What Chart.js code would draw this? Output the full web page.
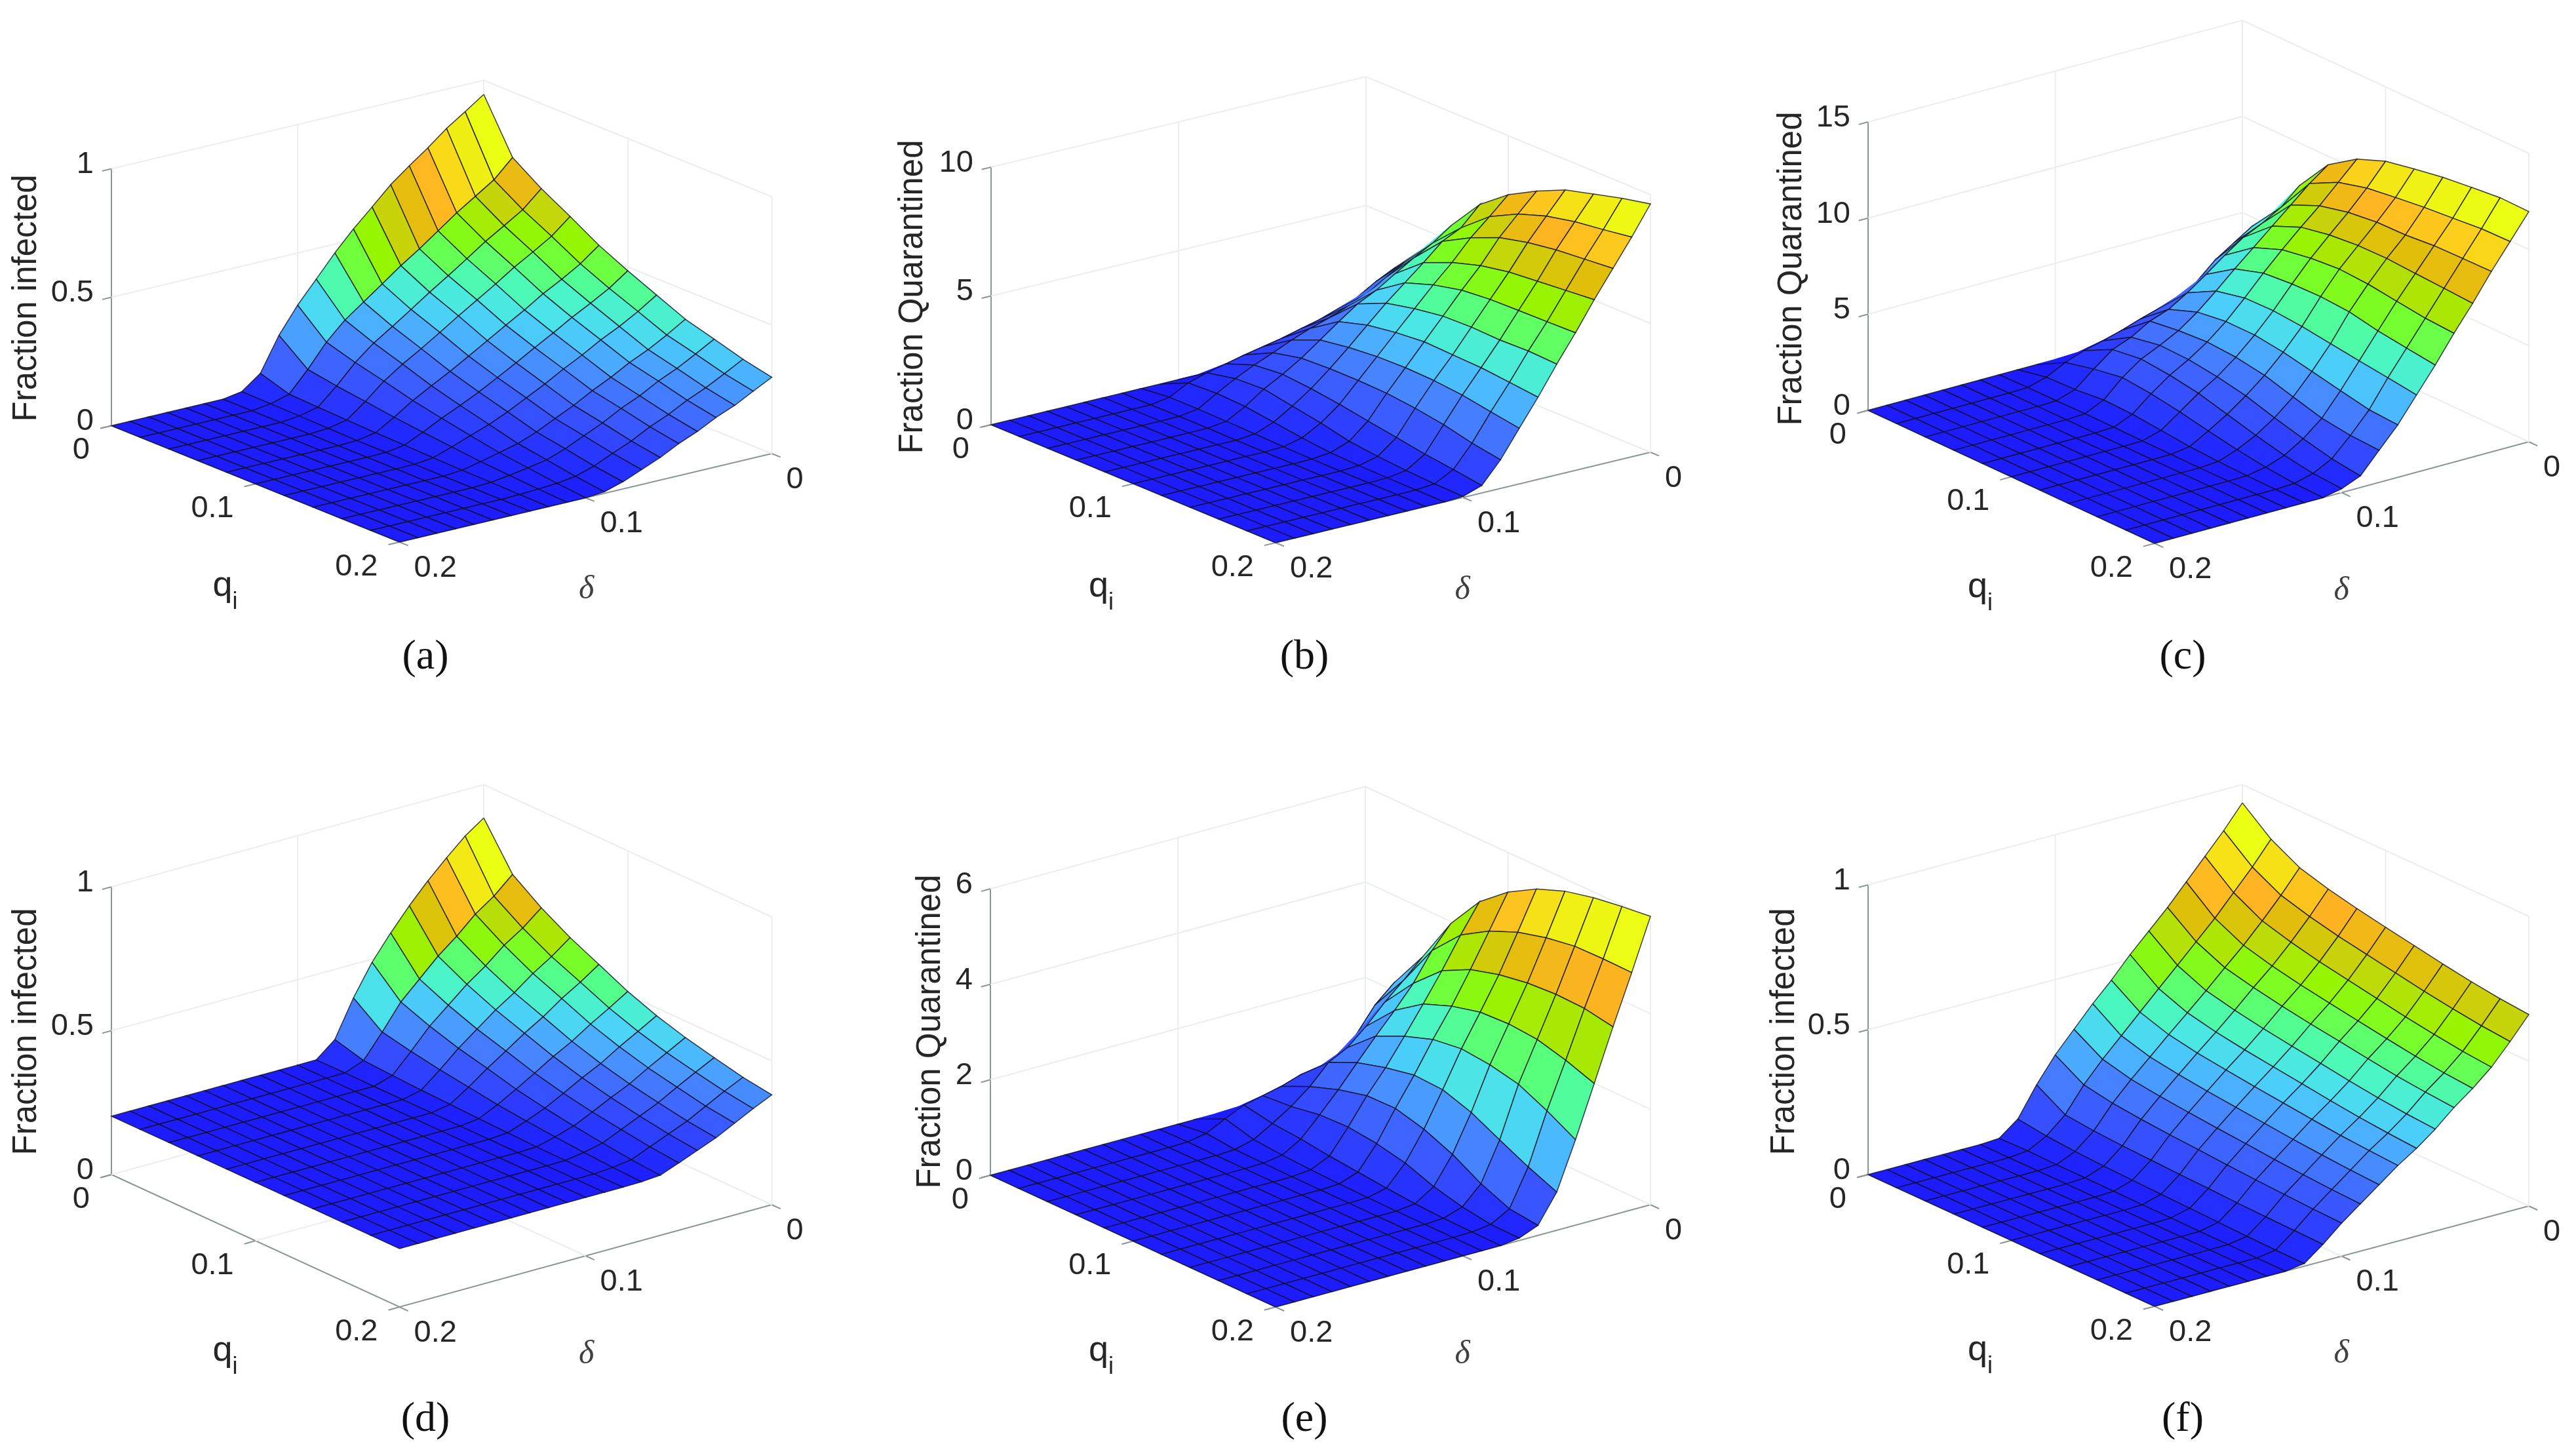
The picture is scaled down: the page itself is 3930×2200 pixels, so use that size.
<!DOCTYPE html>
<html>
<head>
<meta charset="utf-8">
<title>Surfaces</title>
<script src="https://cdn.jsdelivr.net/npm/chart.js@4/dist/chart.umd.min.js"></script>
<style>
  html, body { margin: 0; padding: 0; background: #ffffff; }
  #page { position: relative; width: 3930px; height: 2200px; overflow: hidden; }
  canvas { position: absolute; }
</style>
</head>
<body>
<div id="page"></div>
<script>
const qValues = [0, 0.02, 0.04, 0.06, 0.08, 0.1, 0.12, 0.14, 0.16, 0.18, 0.2];
const deltaValues = [0, 0.01, 0.02, 0.03, 0.04, 0.05, 0.06, 0.07, 0.08, 0.09, 0.1, 0.11, 0.12, 0.13, 0.14, 0.15, 0.16, 0.17, 0.18, 0.19, 0.2];
const qTicks = [0, 0.1, 0.2];
const deltaTicks = [0, 0.1, 0.2];

const zTicksA = [0, 0.5, 1];
const zTicksB = [0, 5, 10];
const zTicksC = [0, 5, 10, 15];
const zTicksD = [0, 0.5, 1];
const zTicksE = [0, 2, 4, 6];
const zTicksF = [0, 0.5, 1];

// rows are q, columns are delta
const surfaceA = [
  [.945,.895,.847,.789,.736,.68,.61,.542,.466,.381,.297,.197,.066,.012,0,0,0,0,0,0,0],
  [.745,.675,.628,.581,.528,.475,.427,.373,.32,.267,.198,.109,.03,.01,0,0,0,0,0,0,0],
  [.669,.604,.559,.515,.465,.416,.369,.319,.27,.223,.164,.09,.025,.008,0,0,0,0,0,0,0],
  [.606,.546,.502,.46,.412,.367,.322,.275,.229,.186,.137,.075,.02,.005,0,0,0,0,0,0,0],
  [.539,.484,.441,.402,.356,.314,.271,.228,.186,.147,.107,.059,.016,.003,0,0,0,0,0,0,0],
  [.485,.434,.393,.355,.312,.272,.23,.19,.151,.116,.083,.046,.013,.002,0,0,0,0,0,0,0],
  [.436,.389,.348,.313,.271,.234,.193,.156,.119,.087,.061,.034,.009,.001,0,0,0,0,0,0,0],
  [.387,.343,.303,.27,.23,.195,.155,.121,.086,.058,.04,.022,.006,0,0,0,0,0,0,0,0],
  [.355,.314,.275,.243,.203,.171,.132,.099,.066,.04,.026,.014,.004,0,0,0,0,0,0,0,0],
  [.322,.283,.245,.214,.176,.145,.107,.076,.044,.021,.011,.006,.002,0,0,0,0,0,0,0,0],
  [.297,.26,.222,.192,.155,.125,.088,.058,.028,.006,0,0,0,0,0,0,0,0,0,0,0]
];

const surfaceB = [
  [0,0,0,0,0,0,0,0,0,0,0,0,0,0,0,0,0,0,0,0,0],
  [3.03,2.67,2.24,1.98,1.73,1.55,1.36,1.21,1.06,.89,.72,.5,.12,0,0,0,0,0,0,0,0],
  [4.23,3.87,3.46,3.01,2.71,2.43,2.2,1.92,1.6,1.3,.95,.55,.12,.01,0,0,0,0,0,0,0],
  [5.6,5.09,4.69,4.25,3.79,3.43,2.92,2.38,1.85,1.4,1,.5,.1,.01,0,0,0,0,0,0,0],
  [6.87,6.14,5.79,5.14,4.53,3.92,3.24,2.55,1.9,1.3,.8,.35,.07,0,0,0,0,0,0,0,0],
  [7.71,7.03,6.39,5.6,4.91,4.16,3.41,2.65,1.9,1.15,.6,.2,.03,0,0,0,0,0,0,0,0],
  [8.31,7.59,6.85,5.94,5.16,4.33,3.51,2.68,1.86,.96,.35,.08,.01,0,0,0,0,0,0,0,0],
  [8.81,7.97,7.12,6.15,5.26,4.36,3.46,2.64,1.74,.78,.22,.04,0,0,0,0,0,0,0,0,0],
  [9.11,8.21,7.29,6.25,5.29,4.32,3.42,2.53,1.56,.59,.13,.02,0,0,0,0,0,0,0,0,0],
  [9.4,8.36,7.39,6.35,5.31,4.35,3.31,2.34,1.3,.45,.07,.01,0,0,0,0,0,0,0,0,0],
  [9.64,8.53,7.49,6.45,5.34,4.3,3.19,2.16,1.11,.29,.04,0,0,0,0,0,0,0,0,0,0]
];

const surfaceC = [
  [0,0,0,0,0,0,0,0,0,0,0,0,0,0,0,0,0,0,0,0,0],
  [5.6,5.25,4.63,4,3.12,2.65,2.29,2,1.67,1.4,1.15,.8,.3,.03,0,0,0,0,0,0,0],
  [7.8,6.92,6.36,5.89,5.22,4.49,3.8,3.2,2.85,2.28,1.9,1.15,.35,.03,0,0,0,0,0,0,0],
  [9.57,8.85,8,7.16,6.31,5.47,4.58,3.75,3.05,2.55,2.1,1.4,.5,.05,0,0,0,0,0,0,0],
  [10.55,9.6,8.65,7.8,6.89,5.94,4.91,3.95,3.15,2.5,1.95,1.25,.45,.04,0,0,0,0,0,0,0],
  [11.13,10,9,8.09,7.14,6.07,4.94,3.94,3.05,2.3,1.7,1,.3,.02,0,0,0,0,0,0,0],
  [11.42,10.2,9.18,8.23,7.27,6.1,4.81,3.74,2.8,2,1.3,.7,.15,.01,0,0,0,0,0,0,0],
  [11.68,10.38,9.21,8.25,7.18,6,4.61,3.43,2.37,1.55,.9,.42,.07,0,0,0,0,0,0,0,0],
  [11.85,10.51,9.34,8.16,6.98,5.7,4.41,3.12,1.95,1.15,.55,.2,.02,0,0,0,0,0,0,0,0],
  [12,10.65,9.37,8.08,6.79,5.5,4.22,2.82,1.75,.8,.3,.05,0,0,0,0,0,0,0,0,0],
  [11.97,10.68,9.39,7.99,6.7,5.31,4.02,2.73,1.67,.6,.2,0,0,0,0,0,0,0,0,0,0]
];

const surfaceD = [
  [.884,.839,.781,.719,.65,.573,.489,.383,.256,.203,.203,.203,.203,.203,.203,.203,.203,.203,.203,.203,.203],
  [.734,.676,.631,.572,.521,.459,.397,.31,.229,.204,.203,.203,.203,.203,.203,.203,.203,.203,.203,.203,.203],
  [.664,.611,.569,.515,.469,.414,.359,.289,.223,.203,.203,.203,.203,.203,.203,.203,.203,.203,.203,.203,.203],
  [.606,.558,.517,.468,.426,.377,.328,.271,.218,.203,.203,.203,.203,.203,.203,.203,.203,.203,.203,.203,.203],
  [.559,.515,.476,.43,.391,.347,.304,.257,.215,.203,.203,.203,.203,.203,.203,.203,.203,.203,.203,.203,.203],
  [.511,.471,.433,.391,.356,.316,.278,.242,.211,.203,.203,.203,.203,.203,.203,.203,.203,.203,.203,.203,.203],
  [.473,.436,.4,.36,.328,.292,.258,.231,.208,.203,.203,.203,.203,.203,.203,.203,.203,.203,.203,.203,.203],
  [.443,.408,.373,.335,.305,.273,.242,.222,.205,.203,.203,.203,.203,.203,.203,.203,.203,.203,.203,.203,.203],
  [.419,.386,.352,.316,.287,.258,.229,.214,.204,.203,.203,.203,.203,.203,.203,.203,.203,.203,.203,.203,.203],
  [.397,.366,.332,.298,.271,.244,.217,.208,.203,.203,.203,.203,.203,.203,.203,.203,.203,.203,.203,.203,.203],
  [.382,.352,.319,.286,.26,.234,.209,.204,.203,.203,.203,.203,.203,.203,.203,.203,.203,.203,.203,.203,.203]
];

const surfaceE = [
  [0,0,0,0,0,0,0,0,0,0,0,0,0,0,0,0,0,0,0,0,0],
  [2.16,1.81,1.3,.99,.82,.77,.64,.55,.46,.28,.08,.01,0,0,0,0,0,0,0,0,0],
  [2.98,2.6,2.25,1.85,1.51,1.31,.91,.6,.35,.12,.02,0,0,0,0,0,0,0,0,0,0],
  [3.96,3.5,2.92,2.46,2.03,1.58,1.12,.7,.3,.07,.01,0,0,0,0,0,0,0,0,0,0],
  [4.69,4.1,3.46,2.87,2.3,1.75,1.27,.72,.22,.04,0,0,0,0,0,0,0,0,0,0,0],
  [5.17,4.46,3.76,3.1,2.51,1.87,1.28,.65,.16,.02,0,0,0,0,0,0,0,0,0,0,0],
  [5.51,4.71,3.93,3.25,2.59,1.84,1.12,.52,.1,.01,0,0,0,0,0,0,0,0,0,0,0],
  [5.74,4.87,4.03,3.28,2.53,1.64,.87,.3,.05,0,0,0,0,0,0,0,0,0,0,0,0],
  [5.88,4.97,4.07,3.23,2.4,1.34,.53,.15,.02,0,0,0,0,0,0,0,0,0,0,0,0],
  [5.97,4.98,4.05,3.07,2.12,1.05,.28,.06,.01,0,0,0,0,0,0,0,0,0,0,0,0],
  [6.04,4.97,3.94,2.86,1.79,.8,.21,.05,0,0,0,0,0,0,0,0,0,0,0,0,0]
];

const surfaceF = [
  [.937,.858,.787,.716,.645,.581,.517,.446,.382,.311,.24,.154,.053,.004,0,0,0,0,0,0,0],
  [.857,.778,.707,.636,.572,.508,.445,.381,.317,.253,.182,.096,.04,.006,0,0,0,0,0,0,0],
  [.804,.726,.655,.588,.528,.466,.407,.349,.289,.229,.164,.086,.032,.004,0,0,0,0,0,0,0],
  [.776,.698,.627,.562,.505,.444,.386,.331,.274,.216,.154,.08,.027,.004,0,0,0,0,0,0,0],
  [.754,.676,.605,.542,.486,.426,.37,.318,.262,.206,.146,.076,.024,.003,0,0,0,0,0,0,0],
  [.735,.658,.587,.525,.47,.411,.357,.306,.252,.197,.14,.072,.021,.002,0,0,0,0,0,0,0],
  [.717,.64,.569,.509,.456,.397,.344,.295,.242,.189,.133,.069,.018,.002,0,0,0,0,0,0,0],
  [.699,.622,.551,.493,.441,.382,.331,.284,.232,.18,.127,.065,.015,.001,0,0,0,0,0,0,0],
  [.683,.607,.536,.478,.427,.369,.319,.274,.224,.173,.122,.062,.012,.001,0,0,0,0,0,0,0],
  [.67,.594,.523,.466,.417,.359,.31,.267,.217,.167,.117,.06,.01,0,0,0,0,0,0,0,0],
  [.661,.585,.514,.458,.409,.352,.303,.261,.212,.163,.114,.058,.009,0,0,0,0,0,0,0,0]
];

// layout of each panel on the page
const panels = [
  { id: "a", surface: surfaceA, zTicks: zTicksA, title: "Fraction infected", box: [0, 0, 1340, 1100],
    left: [170, 649.5], front: [609.5, 827], right: [1177.5, 692], zPx: 392, yLabel: [41, 455], letter: [649, 1003] },
  { id: "b", surface: surfaceB, zTicks: zTicksB, title: "Fraction Quarantined", box: [1340, 0, 1320, 1100],
    left: [1512, 648], front: [1946, 828], right: [2518, 690], zPx: 393, yLabel: [1393, 453], letter: [1990, 1003] },
  { id: "c", surface: surfaceC, zTicks: zTicksC, title: "Fraction Quarantined", box: [2660, 0, 1270, 1100],
    left: [2850, 626], front: [3287, 829], right: [3858, 674], zPx: 440, yLabel: [2734, 410], letter: [3330, 1003] },
  { id: "d", surface: surfaceD, zTicks: zTicksD, title: "Fraction infected", box: [0, 1100, 1340, 1100],
    left: [170, 1792], front: [609.5, 1994], right: [1177.5, 1838], zPx: 439, yLabel: [41, 1574], letter: [649, 2166] },
  { id: "e", surface: surfaceE, zTicks: zTicksE, title: "Fraction Quarantined", box: [1340, 1100, 1320, 1100],
    left: [1511, 1793], front: [1946, 1994], right: [2518, 1838], zPx: 437, yLabel: [1420, 1574], letter: [1990, 2166] },
  { id: "f", surface: surfaceF, zTicks: zTicksF, title: "Fraction infected", box: [2660, 1100, 1270, 1100],
    left: [2850, 1792], front: [3287, 1993], right: [3858, 1840], zPx: 442, yLabel: [2723, 1574], letter: [3330, 2166] }
];

const colorStops = [
  [0, 28, 28, 255], [.07, 35, 45, 255], [.14, 50, 70, 255], [.21, 62, 100, 255],
  [.27, 70, 130, 255], [.33, 75, 170, 255], [.38, 75, 205, 250], [.43, 75, 230, 230], [.48, 75, 248, 190],
  [.53, 85, 255, 130], [.58, 115, 255, 50], [.645, 150, 245, 0], [.71, 195, 215, 10],
  [.77, 225, 190, 10], [.83, 255, 180, 35], [.89, 250, 215, 25], [.95, 240, 240, 20], [1, 235, 255, 20]
];

const WALL = "#ebeeee";
const AXIS = "#8b9696";
const MESH = "rgba(15,15,30,0.8)";
const SANS = '"Liberation Sans", Arial, sans-serif';
const SERIF = '"Liberation Serif", "Times New Roman", serif';

function corFace(t) {
  for (let k = 1; k < colorStops.length; k++) {
    if (t <= colorStops[k][0]) {
      const a = colorStops[k - 1];
      const b = colorStops[k];
      const f = (t - a[0]) / (b[0] - a[0]);
      const c = [1, 2, 3].map((n) => Math.round(a[n] + (b[n] - a[n]) * f));
      return `rgb(${c[0]},${c[1]},${c[2]})`;
    }
  }
  return "rgb(235,255,20)";
}

// orthographic view: q and delta run along the floor edges, z goes straight up
function project(p, q, d, z) {
  const backX = p.left[0] + p.right[0] - p.front[0];
  const backY = p.left[1] + p.right[1] - p.front[1];
  const zTop = p.zTicks[p.zTicks.length - 1];
  return {
    x: backX + (p.right[0] - backX) * (q / 0.2) + (p.left[0] - backX) * (d / 0.2),
    y: backY + (p.right[1] - backY) * (q / 0.2) + (p.left[1] - backY) * (d / 0.2) - p.zPx * (z / zTop)
  };
}

function linha(points, color, width) {
  return {
    data: points,
    showLine: true,
    fill: false,
    borderColor: color,
    borderWidth: width,
    pointRadius: 0,
    pointHoverRadius: 0,
    tension: 0
  };
}

function montarParedes(p) {
  const sets = [];
  const zTop = p.zTicks[p.zTicks.length - 1];

  p.zTicks.forEach((z) => {
    if (z === 0) return;
    sets.push(linha([project(p, 0, 0.2, z), project(p, 0, 0, z), project(p, 0.2, 0, z)], WALL, 2));
  });
  sets.push(linha([project(p, 0, 0.1, 0), project(p, 0, 0.1, zTop)], WALL, 2));
  sets.push(linha([project(p, 0.1, 0, 0), project(p, 0.1, 0, zTop)], WALL, 2));
  sets.push(linha([project(p, 0, 0, 0), project(p, 0, 0, zTop)], WALL, 2));
  sets.push(linha([project(p, 0.2, 0, 0), project(p, 0.2, 0, zTop)], WALL, 2));
  sets.push(linha([project(p, 0, 0.2, 0), project(p, 0, 0, 0), project(p, 0.2, 0, 0)], WALL, 2));
  sets.push(linha([project(p, 0.1, 0, 0), project(p, 0.1, 0.2, 0)], WALL, 2));
  sets.push(linha([project(p, 0, 0.1, 0), project(p, 0.2, 0.1, 0)], WALL, 2));

  // axis lines and tick marks
  sets.push(linha([project(p, 0, 0.2, 0), project(p, 0, 0.2, zTop)], AXIS, 2));
  sets.push(linha([project(p, 0, 0.2, 0), project(p, 0.2, 0.2, 0), project(p, 0.2, 0, 0)], AXIS, 2));
  p.zTicks.forEach((z) => {
    sets.push(linha([project(p, 0, 0.2, z), project(p, 0, 0.205, z)], AXIS, 2));
  });
  qTicks.forEach((q) => {
    sets.push(linha([project(p, q, 0.2, 0), project(p, q, 0.206, 0)], AXIS, 2));
  });
  deltaTicks.forEach((d) => {
    sets.push(linha([project(p, 0.2, d, 0), project(p, 0.206, d, 0)], AXIS, 2));
  });
  return sets;
}

function montarFaces(p) {
  const sets = [];
  const all = p.surface.flat();
  const zMin = Math.min(...all);
  const zMax = Math.max(...all);

  for (let i = 0; i < qValues.length - 1; i++) {
    for (let j = 0; j < deltaValues.length - 1; j++) {
      const q0 = qValues[i], q1 = qValues[i + 1];
      const d0 = deltaValues[j], d1 = deltaValues[j + 1];
      const s = p.surface;
      const pts = [
        project(p, q0, d0, s[i][j]),
        project(p, q1, d0, s[i + 1][j]),
        project(p, q1, d1, s[i + 1][j + 1]),
        project(p, q0, d1, s[i][j + 1]),
        project(p, q0, d0, s[i][j])
      ];
      const cor = corFace((s[i][j] - zMin) / (zMax - zMin));
      // faces seen from underneath only peek out along the fold, keep them without mesh
      const ax = pts[1].x - pts[0].x, ay = pts[1].y - pts[0].y;
      const bx = pts[3].x - pts[0].x, by = pts[3].y - pts[0].y;
      const deCosta = ax * by - ay * bx < 0;
      const face = linha(pts, deCosta ? cor : MESH, 1.5);
      face.fill = "shape";
      face.backgroundColor = cor;
      sets.push(face);
    }
  }
  return sets;
}

function textosPlugin(p) {
  return {
    id: "textos",
    afterDraw(chart) {
      const ctx = chart.ctx;
      const sx = chart.scales.x;
      const sy = chart.scales.y;
      const put = (txt, x, y, font, align, color) => {
        ctx.font = font;
        ctx.textAlign = align;
        ctx.textBaseline = "middle";
        ctx.fillStyle = color;
        ctx.fillText(txt, sx.getPixelForValue(x), sy.getPixelForValue(y));
      };
      const tickFont = "47px " + SANS;
      const ink = "#262626";

      ctx.save();
      p.zTicks.forEach((z) => {
        const a = project(p, 0, 0.2, z);
        put(String(z), a.x - 27, a.y - 6, tickFont, "right", ink);
      });
      qTicks.forEach((q) => {
        const a = project(p, q, 0.2, 0);
        put(String(q), a.x - 33, a.y + 38, tickFont, "right", ink);
      });
      deltaTicks.forEach((d) => {
        const a = project(p, 0.2, d, 0);
        put(String(d), a.x + 22, a.y + 40, tickFont, "left", ink);
      });

      put("q", p.front[0] - 270, p.front[1] + 67, "54px " + SANS, "center", ink);
      put("i", p.front[0] - 251, p.front[1] + 92, "36px " + SANS, "center", ink);
      put("δ", p.front[0] + 285, p.front[1] + 73, "italic 50px " + SERIF, "center", "#404040");
      put("(" + p.id + ")", p.letter[0], p.letter[1], "64px " + SERIF, "center", "#111111");
      ctx.restore();

      ctx.save();
      ctx.translate(sx.getPixelForValue(p.yLabel[0]), sy.getPixelForValue(p.yLabel[1]));
      ctx.rotate(-Math.PI / 2);
      ctx.font = "51px " + SANS;
      ctx.textAlign = "center";
      ctx.textBaseline = "middle";
      ctx.fillStyle = ink;
      ctx.fillText(p.title, 0, 0);
      ctx.restore();
    }
  };
}

function montarPainel(p) {
  const canvas = document.createElement("canvas");
  canvas.id = "painel-" + p.id;
  canvas.width = p.box[2];
  canvas.height = p.box[3];
  canvas.style.left = p.box[0] + "px";
  canvas.style.top = p.box[1] + "px";
  canvas.style.width = p.box[2] + "px";
  canvas.style.height = p.box[3] + "px";
  document.getElementById("page").appendChild(canvas);

  // chart.js paints the first dataset last, so nearest faces go first
  const datasets = montarFaces(p).reverse().concat(montarParedes(p));

  new Chart(canvas, {
    type: "scatter",
    data: { datasets },
    options: {
      responsive: false,
      animation: false,
      events: [],
      devicePixelRatio: 1,
      layout: { padding: 0 },
      plugins: { legend: { display: false }, tooltip: { enabled: false } },
      scales: {
        x: { type: "linear", display: false, min: p.box[0], max: p.box[0] + p.box[2] },
        y: { type: "linear", display: false, reverse: true, min: p.box[1], max: p.box[1] + p.box[3] }
      }
    },
    plugins: [textosPlugin(p)]
  });
}

panels.forEach(montarPainel);
</script>
</body>
</html>
